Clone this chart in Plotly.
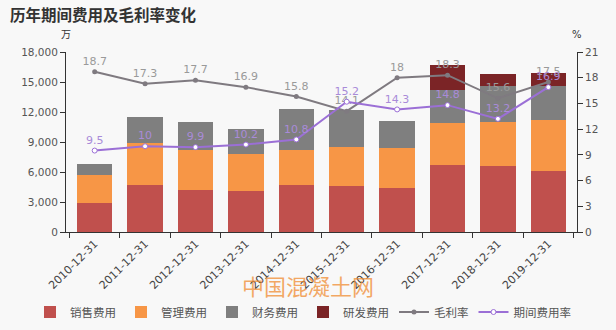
import plotly.graph_objects as go

# Year-end reporting dates
years = ["2010-12-31", "2011-12-31", "2012-12-31", "2013-12-31", "2014-12-31",
         "2015-12-31", "2016-12-31", "2017-12-31", "2018-12-31", "2019-12-31"]

# Expense components (万元)
sales_exp = [2900, 4670, 4200, 4130, 4670, 4630, 4430, 6730, 6630, 6100]
admin_exp = [2830, 4200, 4000, 3640, 3530, 3900, 3940, 4200, 4340, 5100]
finance_exp = [1070, 2600, 2830, 2500, 4070, 3670, 2730, 3270, 3630, 3400]
rd_exp = [None, None, None, None, None, None, None, 2470, 1230, 1330]

# Ratios (%)
gross_margin = [18.7, 17.3, 17.7, 16.9, 15.8, 14.1, 18, 18.3, 15.6, 17.5]
expense_ratio = [9.5, 10, 9.9, 10.2, 10.8, 15.2, 14.3, 14.8, 13.2, 16.9]

FONT = "DejaVu Sans, Noto Sans CJK SC, sans-serif"
W, H = 616, 330
ML, MR, MT, MB = 66, 39, 52, 98
PW, PH = W - ML - MR, H - MT - MB


def px_to_paper(px, py):
    """Convert a pixel position on the page to paper coordinates."""
    return (px - ML) / PW, (H - MB - py) / PH


fig = go.Figure()

bar_specs = [
    ("销售费用", sales_exp, "#c0504d"),
    ("管理费用", admin_exp, "#f79646"),
    ("财务费用", finance_exp, "#7f7f7f"),
    ("研发费用", rd_exp, "#7b2426"),
]
for name, vals, color in bar_specs:
    fig.add_trace(go.Bar(x=years, y=vals, name=name, marker_color=color,
                         marker_line_width=0, yaxis="y"))

fig.add_trace(go.Scatter(
    x=years, y=gross_margin, name="毛利率", yaxis="y2",
    mode="lines+markers+text",
    line=dict(color="#7f7a80", width=2),
    marker=dict(symbol="circle", size=5, color="#7f7a80"),
    text=[str(v) for v in gross_margin], textposition="top center",
    textfont=dict(color="#9a9a9a", size=11, family=FONT),
))
fig.add_trace(go.Scatter(
    x=years, y=expense_ratio, name="期间费用率", yaxis="y2",
    mode="lines+markers+text",
    line=dict(color="#9b6fd6", width=2),
    marker=dict(symbol="circle", size=5, color="#ffffff",
                line=dict(color="#9b6fd6", width=1)),
    text=[str(v) for v in expense_ratio], textposition="top center",
    textfont=dict(color="#a98bd8", size=11, family=FONT),
))

tx, ty = px_to_paper(8, 15)
wx, wy = px_to_paper(308, 287)
lx, ly = px_to_paper(30, 312)

fig.update_layout(
    width=W, height=H,
    margin=dict(l=ML, r=MR, t=MT, b=MB, autoexpand=False),
    paper_bgcolor="#f8f8f8", plot_bgcolor="#f8f8f8",
    barmode="stack", bargap=0.3,
    font=dict(family=FONT, size=11, color="#444444"),
    showlegend=True,
    legend=dict(orientation="h", x=lx, xanchor="left", y=ly, yanchor="middle",
                traceorder="normal",
                font=dict(size=11.5, color="#555555"), bgcolor="rgba(0,0,0,0)",
                itemwidth=30),
    xaxis=dict(type="category", tickangle=-45, tickson="boundaries",
               ticks="outside", ticklen=5, tickcolor="#333333",
               showline=True, linecolor="#333333", linewidth=1,
               showgrid=False, tickfont=dict(size=11, color="#444444")),
    yaxis=dict(range=[0, 18000], dtick=3000, tickformat=",d",
               ticks="outside", ticklen=5, tickcolor="#333333",
               showline=True, linecolor="#333333", linewidth=1,
               showgrid=False, zeroline=False,
               tickfont=dict(size=10.5, color="#555555")),
    yaxis2=dict(range=[0, 21], dtick=3, overlaying="y", side="right",
                ticks="outside", ticklen=5, tickcolor="#333333",
                showline=True, linecolor="#333333", linewidth=1,
                showgrid=False, zeroline=False,
                tickfont=dict(size=10.5, color="#555555")),
    annotations=[
        dict(text="<b>历年期间费用及毛利率变化</b>", x=tx, y=ty,
             xref="paper", yref="paper",
             showarrow=False, xanchor="left", yanchor="middle",
             font=dict(size=15.5, color="#333333")),
        dict(text="万", x=0, y=px_to_paper(0, 35)[1], xref="paper", yref="paper",
             showarrow=False, xanchor="center", yanchor="middle",
             font=dict(size=10, color="#333333")),
        dict(text="%", x=1, y=px_to_paper(0, 35)[1], xref="paper", yref="paper",
             showarrow=False, xanchor="center", yanchor="middle",
             font=dict(size=10, color="#333333")),
        dict(text="中国混凝土网", x=wx, y=wy, xref="paper", yref="paper",
             showarrow=False, xanchor="center", yanchor="middle",
             font=dict(size=22, color="rgba(240,140,50,0.75)")),
    ],
)

fig.write_html("out.html")
